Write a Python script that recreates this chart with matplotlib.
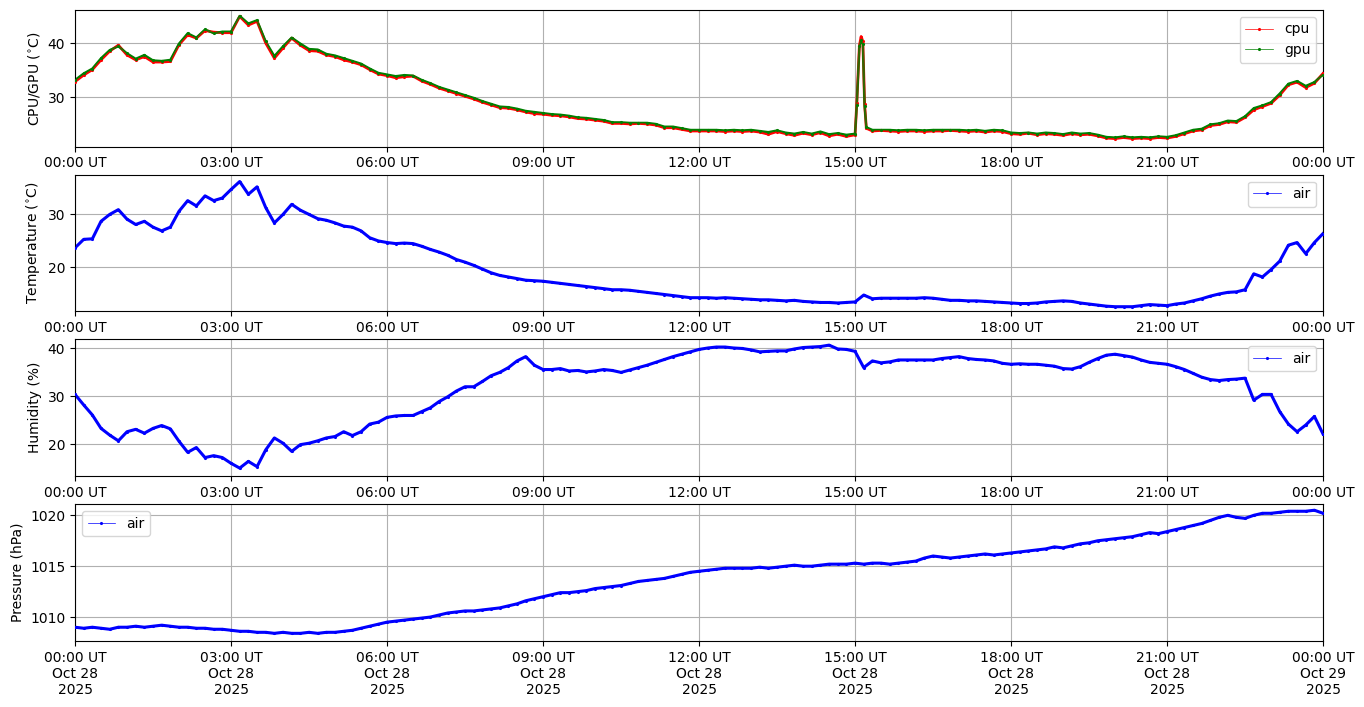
import datetime as dt
import matplotlib
matplotlib.use("Agg")
import matplotlib.pyplot as plt
import matplotlib.dates as mdates
import pandas as pd

# samples every 10 minutes, extra samples across the 15:00 cpu/gpu spike
cpu_minutes = list(range(0, 901, 10)) + [902, 905, 907, 909, 911, 913] + list(range(920, 1441, 10))
air_minutes = list(range(0, 1441, 10))

cpu = [32.9, 34.1, 35.1, 36.9, 38.5, 39.6, 37.8,
       36.9, 37.5, 36.5, 36.5, 36.6, 39.7,
       41.5, 40.9, 42.3, 42.0, 41.9, 41.9,
       44.9, 43.3, 44.0, 40.0, 37.2, 39.1,
       40.9, 39.6, 38.6, 38.5, 37.8, 37.5,
       36.9, 36.5, 36.0, 35.1, 34.3, 34.0,
       33.6, 33.8, 33.9, 33.0, 32.4, 31.7,
       31.2, 30.7, 30.2, 29.7, 29.1, 28.6,
       28.1, 28.0, 27.7, 27.3, 27.0, 26.9,
       26.7, 26.6, 26.4, 26.1, 26.0, 25.8,
       25.6, 25.2, 25.2, 25.1, 25.2, 25.1,
       24.9, 24.4, 24.4, 24.1, 23.8, 23.8,
       23.8, 23.8, 23.7, 23.8, 23.7, 23.8,
       23.6, 23.2, 23.7, 23.3, 23.0, 23.4,
       23.1, 23.5, 22.9, 23.2, 22.8, 23.1,
       28.9, 39.5, 41.2, 40.3, 28.8, 24.3,
       23.8, 23.9, 23.8, 23.7, 23.8,
       23.8, 23.7, 23.8, 23.8, 23.9, 23.8,
       23.7, 23.8, 23.6, 23.8, 23.7, 23.3,
       23.2, 23.4, 23.1, 23.3, 23.2, 23.0,
       23.3, 23.1, 23.2, 22.9, 22.5, 22.4,
       22.6, 22.4, 22.5, 22.4, 22.6, 22.5,
       22.8, 23.3, 23.8, 24.0, 24.8, 25.0,
       25.5, 25.4, 26.3, 27.7, 28.3, 28.9,
       30.4, 32.3, 32.8, 31.8, 32.6, 34.4]

gpu = [33.2, 34.4, 35.3, 37.2, 38.7, 39.4, 38.1,
       37.1, 37.8, 36.8, 36.7, 36.9, 39.9,
       41.8, 41.0, 42.5, 41.8, 42.1, 42.1,
       45.0, 43.6, 44.2, 40.3, 37.6, 39.4,
       41.0, 39.9, 38.9, 38.8, 38.0, 37.7,
       37.2, 36.7, 36.2, 35.3, 34.5, 34.2,
       33.9, 34.1, 34.0, 33.2, 32.6, 31.9,
       31.4, 30.9, 30.4, 29.9, 29.3, 28.8,
       28.3, 28.2, 27.9, 27.5, 27.3, 27.1,
       26.9, 26.8, 26.6, 26.3, 26.2, 26.0,
       25.8, 25.4, 25.4, 25.3, 25.3, 25.3,
       25.1, 24.6, 24.6, 24.3, 24.0, 24.0,
       24.0, 24.0, 23.9, 24.0, 23.9, 24.0,
       23.8, 23.6, 23.9, 23.5, 23.3, 23.6,
       23.3, 23.7, 23.2, 23.4, 23.1, 23.3,
       28.6, 39.4, 40.5, 39.8, 28.4, 24.5,
       24.0, 24.0, 24.0, 23.9, 24.0,
       24.0, 23.9, 24.0, 24.0, 24.0, 24.0,
       23.9, 24.0, 23.8, 24.0, 23.9, 23.5,
       23.4, 23.5, 23.3, 23.5, 23.4, 23.2,
       23.5, 23.3, 23.4, 23.1, 22.7, 22.6,
       22.8, 22.6, 22.7, 22.6, 22.8, 22.7,
       23.0, 23.5, 24.0, 24.2, 25.0, 25.2,
       25.7, 25.6, 26.5, 28.0, 28.5, 29.1,
       30.7, 32.5, 33.0, 32.1, 32.8, 34.2]

temperature = [23.7, 25.3, 25.4, 28.7, 30.0, 30.9, 29.1,
               28.1, 28.7, 27.6, 26.9, 27.6, 30.6,
               32.6, 31.6, 33.5, 32.6, 33.1, 34.7,
               36.2, 33.8, 35.2, 31.3, 28.4, 30.0,
               31.9, 30.8, 30.0, 29.2, 28.9, 28.4,
               27.8, 27.6, 26.9, 25.6, 25.0, 24.7,
               24.5, 24.6, 24.5, 24.0, 23.4, 22.9,
               22.3, 21.5, 21.0, 20.4, 19.7, 19.0,
               18.5, 18.2, 17.9, 17.6, 17.5, 17.4,
               17.2, 17.0, 16.8, 16.6, 16.4, 16.2,
               16.0, 15.8, 15.8, 15.7, 15.5, 15.3,
               15.1, 14.9, 14.7, 14.5, 14.3, 14.3,
               14.3, 14.2, 14.3, 14.2, 14.1, 14.0,
               13.9, 13.9, 13.8, 13.7, 13.8, 13.6,
               13.5, 13.4, 13.4, 13.3, 13.4, 13.5,
               14.8, 14.1, 14.2, 14.2, 14.2, 14.2,
               14.2, 14.3, 14.2, 14.0, 13.8, 13.8,
               13.7, 13.7, 13.6, 13.5, 13.4, 13.3,
               13.2, 13.2, 13.3, 13.5, 13.6, 13.7,
               13.6, 13.3, 13.1, 12.9, 12.7, 12.6,
               12.6, 12.6, 12.8, 13.0, 12.9, 12.8,
               13.1, 13.3, 13.7, 14.1, 14.6, 15.0,
               15.3, 15.4, 15.8, 18.8, 18.2, 19.6,
               21.2, 24.2, 24.7, 22.6, 24.7, 26.4]

humidity = [30.4, 28.2, 26.1, 23.3, 21.9, 20.7, 22.6,
            23.1, 22.3, 23.3, 23.9, 23.2, 20.6,
            18.3, 19.3, 17.2, 17.6, 17.2, 16.0,
            15.0, 16.4, 15.3, 18.8, 21.3, 20.2,
            18.5, 19.9, 20.2, 20.7, 21.3, 21.6,
            22.6, 21.8, 22.6, 24.2, 24.6, 25.6,
            25.9, 26.0, 26.0, 26.8, 27.6, 28.9,
            29.9, 31.1, 32.0, 32.0, 33.1, 34.3,
            35.0, 36.0, 37.4, 38.3, 36.5, 35.6,
            35.6, 35.8, 35.3, 35.4, 35.1, 35.3,
            35.6, 35.4, 35.0, 35.5, 36.0, 36.5,
            37.1, 37.7, 38.3, 38.8, 39.3, 39.8,
            40.1, 40.3, 40.3, 40.1, 40.0, 39.7,
            39.3, 39.4, 39.5, 39.5, 39.9, 40.2,
            40.3, 40.4, 40.7, 39.9, 39.8, 39.4,
            36.0, 37.4, 37.0, 37.2, 37.6, 37.6,
            37.6, 37.6, 37.6, 37.9, 38.1, 38.3,
            37.9, 37.7, 37.6, 37.4, 36.9, 36.7,
            36.8, 36.7, 36.7, 36.5, 36.3, 35.8,
            35.7, 36.2, 37.1, 37.9, 38.6, 38.8,
            38.5, 38.2, 37.6, 37.1, 36.9, 36.7,
            36.2, 35.6, 34.8, 34.0, 33.5, 33.3,
            33.5, 33.6, 33.8, 29.2, 30.4, 30.4,
            26.8, 24.2, 22.6, 24.0, 25.8, 22.1]

pressure = [1009.0, 1008.9, 1009.0, 1008.9, 1008.8, 1009.0, 1009.0,
            1009.1, 1009.0, 1009.1, 1009.2, 1009.1, 1009.0,
            1009.0, 1008.9, 1008.9, 1008.8, 1008.8, 1008.7,
            1008.6, 1008.6, 1008.5, 1008.5, 1008.4, 1008.5,
            1008.4, 1008.4, 1008.5, 1008.4, 1008.5, 1008.5,
            1008.6, 1008.7, 1008.9, 1009.1, 1009.3, 1009.5,
            1009.6, 1009.7, 1009.8, 1009.9, 1010.0, 1010.2,
            1010.4, 1010.5, 1010.6, 1010.6, 1010.7, 1010.8,
            1010.9, 1011.1, 1011.3, 1011.6, 1011.8, 1012.0,
            1012.2, 1012.4, 1012.4, 1012.5, 1012.6, 1012.8,
            1012.9, 1013.0, 1013.1, 1013.3, 1013.5, 1013.6,
            1013.7, 1013.8, 1014.0, 1014.2, 1014.4, 1014.5,
            1014.6, 1014.7, 1014.8, 1014.8, 1014.8, 1014.8,
            1014.9, 1014.8, 1014.9, 1015.0, 1015.1, 1015.0,
            1015.0, 1015.1, 1015.2, 1015.2, 1015.2, 1015.3,
            1015.2, 1015.3, 1015.3, 1015.2, 1015.3, 1015.4,
            1015.5, 1015.8, 1016.0, 1015.9, 1015.8, 1015.9,
            1016.0, 1016.1, 1016.2, 1016.1, 1016.2, 1016.3,
            1016.4, 1016.5, 1016.6, 1016.7, 1016.9, 1016.8,
            1017.0, 1017.2, 1017.3, 1017.5, 1017.6, 1017.7,
            1017.8, 1017.9, 1018.1, 1018.3, 1018.2, 1018.4,
            1018.6, 1018.8, 1019.0, 1019.2, 1019.5, 1019.8,
            1020.0, 1019.8, 1019.7, 1020.0, 1020.2, 1020.2,
            1020.3, 1020.4, 1020.4, 1020.4, 1020.5, 1020.2]

start = dt.datetime(2025, 10, 28)
t_cpu = pd.to_datetime([start + dt.timedelta(minutes=m) for m in cpu_minutes])
t_air = pd.to_datetime([start + dt.timedelta(minutes=m) for m in air_minutes])

fig, axes = plt.subplots(4, 1, figsize=(13.64, 7.07), dpi=100)
fig.subplots_adjust(left=0.055, right=0.97, top=0.986, bottom=0.0934, hspace=0.204)

ax = axes[0]
ax.plot(t_cpu, cpu, '-', color='red', lw=2.0, zorder=2)
ax.plot(t_cpu, gpu, '-', color='green', lw=1.6, zorder=2)
ax.plot(t_cpu, cpu, '.-', color='red', lw=0.5, ms=2.5, label='cpu', zorder=3)
ax.plot(t_cpu, gpu, '.-', color='green', lw=0.5, ms=2.5, label='gpu', zorder=3)
ax.set_ylim(20.9, 46.1)
ax.set_ylabel(r'CPU/GPU ($^{\circ}$C)')
ax.legend(loc='upper right')

panels = [(axes[1], temperature, r'Temperature ($^{\circ}$C)', (11.7, 37.5), 'upper right'),
          (axes[2], humidity, 'Humidity (%)', (13.3, 41.9), 'upper right'),
          (axes[3], pressure, 'Pressure (hPa)', (1007.65, 1021.1), 'upper left')]
for ax, vals, label, ylim, loc in panels:
    ax.plot(t_air, vals, '-', color='blue', lw=2.2, zorder=2)
    ax.plot(t_air, vals, '.-', color='blue', lw=0.5, ms=2.5, label='air', zorder=3)
    ax.set_ylim(*ylim)
    ax.set_ylabel(label)
    ax.legend(loc=loc)

for i, ax in enumerate(axes):
    ax.set_xlim(start, start + dt.timedelta(days=1))
    ax.xaxis.set_major_locator(mdates.HourLocator(byhour=range(0, 24, 3)))
    if i < 3:
        ax.xaxis.set_major_formatter(mdates.DateFormatter('%H:%M UT'))
    else:
        ax.xaxis.set_major_formatter(mdates.DateFormatter('%H:%M UT\n%b %d\n%Y'))
    ax.grid(True)

fig.savefig('out.png', dpi=100)
